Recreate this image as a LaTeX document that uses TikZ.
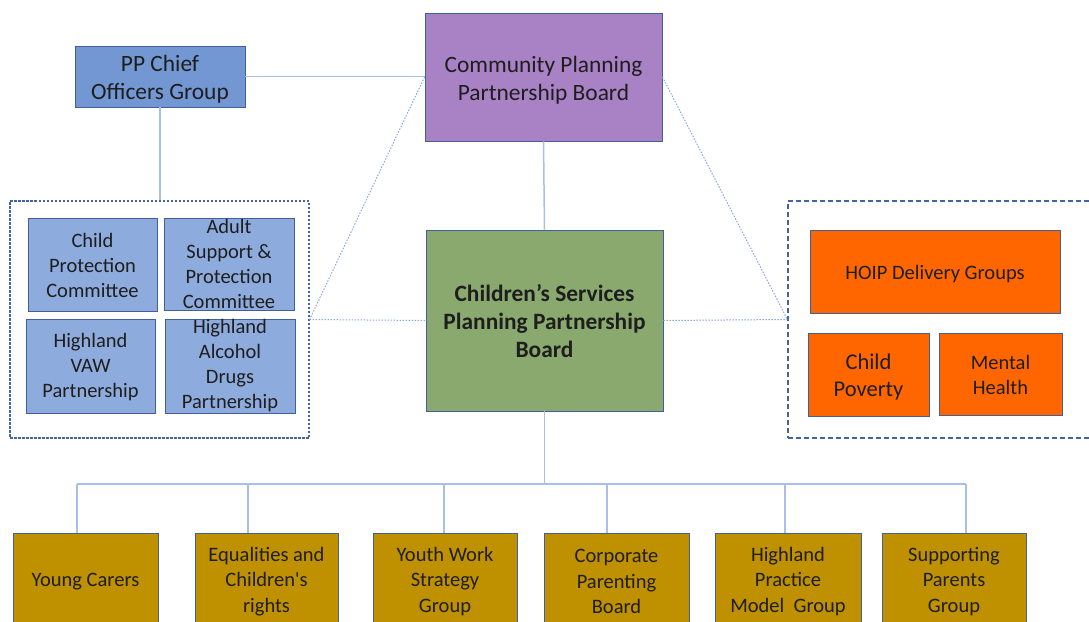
\documentclass[tikz,border=0pt]{standalone}
\usepackage{fontspec}
\setmainfont{Carlito}
\newfontfamily\plainq{Carlito}[Ligatures=TeXOff]
\definecolor{bordc}{HTML}{41609A}
\definecolor{ppc}{HTML}{7297D2}
\definecolor{innc}{HTML}{8EABDD}
\definecolor{cpbc}{HTML}{A981C5}
\definecolor{csc}{HTML}{8AA96F}
\definecolor{orc}{HTML}{FF6600}
\definecolor{gdc}{HTML}{BF9000}
\definecolor{connc}{HTML}{A8BFE8}
\definecolor{dotcol}{HTML}{8AA8DE}
\definecolor{grpc}{HTML}{44649F}
\definecolor{txtc}{HTML}{1E1E1E}
\begin{document}
\begin{tikzpicture}[x=1pt,y=-1pt,
  box/.style={draw=bordc, line width=0.9pt, inner sep=0pt},
  sz/.style 2 args={minimum width=#1, minimum height=#2},
  txt/.style={align=center, text=txtc, inner sep=0pt},
  fa/.style={font=\fontsize{23.4}{28}\selectfont},
  fab/.style={font=\fontsize{23.4}{28}\selectfont\bfseries},
  fb/.style={font=\fontsize{20.5}{25}\selectfont},
  fc/.style={font=\fontsize{20.5}{25.5}\selectfont},
  fd/.style={font=\fontsize{22.5}{27}\selectfont},
  conn/.style={draw=connc, line width=1.5pt},
  dotln/.style={draw=dotcol, line width=1pt, dash pattern=on 1.5pt off 1.5pt},
  grpl/.style={draw=grpc, line width=1.2pt, dash pattern=on 2.5pt off 1.5pt, inner sep=0pt},
  grpr/.style={draw=grpc, line width=1.2pt, dash pattern=on 5pt off 3pt, inner sep=0pt},
]
\useasboundingbox (0,0) rectangle (1089,621);
\clip (0,0) rectangle (1089,621);

% top level
\node[box, fill=ppc, sz={170}{61}, label={[txt,fa,yshift=-3pt]center:{PP Chief\\Officers Group}}] (pp) at (160,76.5) {};
\node[box, fill=cpbc, sz={237}{128}, label={[txt,fa,yshift=-3pt]center:{Community Planning\\Partnership Board}}] (cpb) at (543.5,77) {};
\node[box, fill=csc, sz={237}{181}, label={[txt,fab,yshift=-1pt]center:{Children’s Services\\Planning Partnership\\Board}}] (cspp) at (544.5,320.5) {};

% groups
\node[grpl, sz={299}{237}] (lgrp) at (159.5,319.5) {};
\node[grpr, sz={312}{237}] (rgrp) at (944,319.5) {};

% left group boxes
\node[box, fill=innc, sz={129}{93}, label={[txt,fb,yshift=-1pt]center:{Child\\Protection\\Committee}}] (cpc) at (92.5,264.5) {};
\node[box, fill=innc, sz={130}{92}, label={[txt,fb]center:{Adult\\Support \&\\Protection\\Committee}}] (asp) at (229,264) {};
\node[box, fill=innc, sz={129}{94}, label={[txt,fb,yshift=-1.5pt]center:{Highland\\VAW\\Partnership}}] (vaw) at (90.5,366) {};
\node[box, fill=innc, sz={130}{94}, label={[txt,fb]center:{Highland\\Alcohol\\Drugs\\Partnership}}] (had) at (230,366) {};

% right group boxes
\node[box, fill=orc, sz={250}{83}, label={[txt,fb,yshift=-3pt]center:{HOIP Delivery Groups}}] (hoip) at (935,271.5) {};
\node[box, fill=orc, sz={121}{83}, label={[txt,fd,yshift=-2.5pt]center:{Child\\Poverty}}] (cpov) at (868.5,374.5) {};
\node[box, fill=orc, sz={123}{82}, label={[txt,fb,yshift=-1pt]center:{Mental\\Health}}] (mh) at (1000.5,374) {};

% bottom boxes
\node[box, fill=gdc, sz={145}{120}, label={[txt,fc,yshift=11pt]center:{Young Carers}}] (b1) at (85.5,593) {};
\node[box, fill=gdc, sz={143}{120}, label={[txt,fc,yshift=11.5pt]center:{Equalities and\\Children{\plainq'}s\\rights}}] (b2) at (266.5,593) {};
\node[box, fill=gdc, sz={144}{120}, label={[txt,fc,yshift=11.5pt]center:{Youth Work\\Strategy\\Group}}] (b3) at (445,593) {};
\node[box, fill=gdc, sz={145}{120}, label={[txt,fc,yshift=11.5pt]center:{Corporate\\Parenting\\Board}}] (b4) at (616.5,593) {};
\node[box, fill=gdc, sz={146}{120}, label={[txt,fc,yshift=11.5pt]center:{Highland\\Practice\\Model~~Group}}] (b5) at (788,593) {};
\node[box, fill=gdc, sz={144}{120}, label={[txt,fc,yshift=11.5pt]center:{Supporting\\Parents\\Group}}] (b6) at (954,593) {};

% solid connectors
\draw[conn] (pp.east) -- (pp.east -| cpb.west);
\draw[conn] (pp.south) -- (pp.south |- lgrp.north);
\draw[conn] (cpb.south) -- (cspp.north);

% dotted connectors
\draw[dotln] (cpb.west) -- (lgrp.east);
\draw[dotln] (lgrp.east) -- (cspp.west);
\draw[dotln] (cpb.east) -- (rgrp.west);
\draw[dotln] (cspp.east) -- (rgrp.west);

% bottom tree
\coordinate (bus) at (544.5,484);
\coordinate (t1) at (77,484);
\coordinate (t2) at (248,484);
\coordinate (t3) at (444,484);
\coordinate (t4) at (607,484);
\coordinate (t5) at (785,484);
\coordinate (t6) at (966,484);
\draw[conn] (cspp.south) -- (bus);
\draw[conn] (t1) -- (t6);
\draw[conn] (t1) -- (t1 |- b1.north);
\draw[conn] (t2) -- (t2 |- b2.north);
\draw[conn] (t3) -- (t3 |- b3.north);
\draw[conn] (t4) -- (t4 |- b4.north);
\draw[conn] (t5) -- (t5 |- b5.north);
\draw[conn] (t6) -- (t6 |- b6.north);
\end{tikzpicture}
\end{document}
